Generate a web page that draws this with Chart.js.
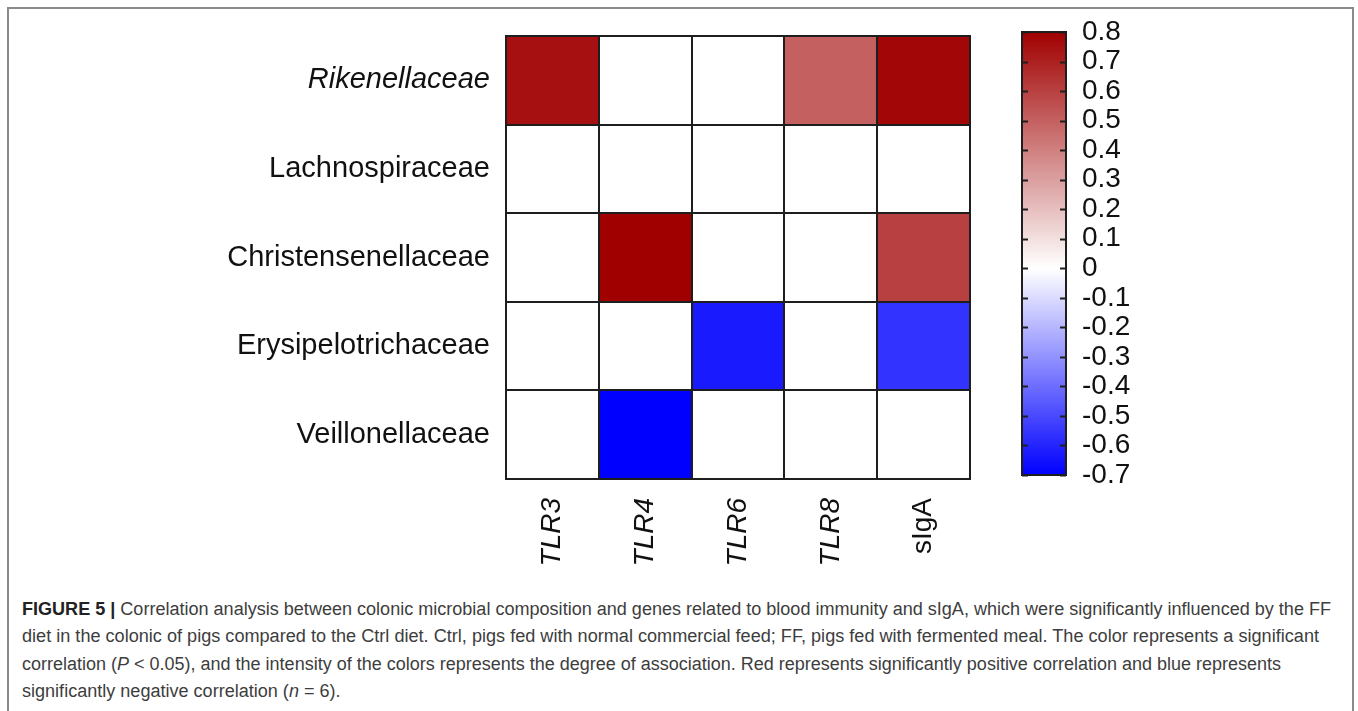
<!DOCTYPE html>
<html>
<head>
<meta charset="utf-8">
<title>Correlation heatmap</title>
<script src="https://cdn.jsdelivr.net/npm/chart.js@4.4.1/dist/chart.umd.min.js"></script>
<style>
  html, body { margin: 0; padding: 0; background: #fff; }
  #page { position: relative; width: 1358px; height: 711px; overflow: hidden; background: #fff; }
  #frame { position: absolute; left: 7px; top: 7px; width: 1343px; height: 740px; border: 2px solid #8a8a8a; }
  #heatmap { position: absolute; left: 0; top: 0; }
  #colorbar { position: absolute; left: 1000px; top: 0; }
  #caption { position: absolute; left: 22px; top: 596px; font-family: 'Liberation Sans', Arial, sans-serif;
             font-size: 18px; color: #3d3d3d; }
  #caption .line { white-space: nowrap; height: 27.3px; line-height: 27.3px; transform-origin: 0 50%; display: block; width: max-content; }
  #caption b { color: #222; }
</style>
</head>
<body>
<div id="page">
  <div id="frame"></div>
  <canvas id="heatmap" width="1000" height="580"></canvas>
  <canvas id="colorbar" width="200" height="520"></canvas>
  <div id="caption">
    <span class="line"><b>FIGURE 5 |</b> Correlation analysis between colonic microbial composition and genes related to blood immunity and sIgA, which were significantly influenced by the FF</span>
    <span class="line">diet in the colonic of pigs compared to the Ctrl diet. Ctrl, pigs fed with normal commercial feed; FF, pigs fed with fermented meal. The color represents a significant</span>
    <span class="line">correlation (<i>P</i> &lt; 0.05), and the intensity of the colors represents the degree of association. Red represents significantly positive correlation and blue represents</span>
    <span class="line">significantly negative correlation (<i>n</i> = 6).</span>
  </div>
</div>
<script>
// Genes / immune markers (columns) and bacterial families (rows)
const columns = ['TLR3', 'TLR4', 'TLR6', 'TLR8', 'sIgA'];
const italicColumns = ['TLR3', 'TLR4', 'TLR6', 'TLR8'];
const families = ['Rikenellaceae', 'Lachnospiraceae', 'Christensenellaceae', 'Erysipelotrichaceae', 'Veillonellaceae'];
const italicFamilies = ['Rikenellaceae'];

// Significant correlation coefficients per family (0 = not significant)
const rikenellaceae       = [0.75, 0, 0, 0.50, 0.78];
const lachnospiraceae     = [0, 0, 0, 0, 0];
const christensenellaceae = [0, 0.80, 0, 0, 0.60];
const erysipelotrichaceae = [0, 0, -0.63, 0, -0.56];
const veillonellaceae     = [0, -0.70, 0, 0, 0];

// Colour scale range and its tick labels
const scaleMax = 0.8;
const scaleMin = -0.7;
const colorbarTicks = [0.8, 0.7, 0.6, 0.5, 0.4, 0.3, 0.2, 0.1, 0, -0.1, -0.2, -0.3, -0.4, -0.5, -0.6, -0.7];

const rows = [rikenellaceae, lachnospiraceae, christensenellaceae, erysipelotrichaceae, veillonellaceae];

const FONT = "'Liberation Sans', Arial, sans-serif";
const RED = [160, 0, 0];
const WHITE = [255, 255, 255];
const BLUE = [0, 0, 255];

function mix(a, b, t) {
  return 'rgb(' + a.map((c, i) => Math.round(c + (b[i] - c) * t)).join(',') + ')';
}
function colorFor(v) {
  if (v >= 0) return mix(WHITE, RED, Math.min(v / scaleMax, 1));
  return mix(WHITE, BLUE, Math.min(v / scaleMin, 1));
}

// Cell borders drawn along the scale boundaries
const cellGrid = {
  id: 'cellGrid',
  afterDatasetsDraw(chart) {
    const { ctx, scales: { x, y } } = chart;
    ctx.save();
    ctx.strokeStyle = '#1e1e1e';
    ctx.lineWidth = 2;
    ctx.beginPath();
    for (let i = 0; i <= columns.length; i++) {
      const px = Math.round(x.getPixelForValue(i - 0.5));
      ctx.moveTo(px, y.top - 1);
      ctx.lineTo(px, y.bottom + 1);
    }
    for (let j = 0; j <= families.length; j++) {
      const py = Math.round(y.getPixelForValue(j));
      ctx.moveTo(x.left - 1, py);
      ctx.lineTo(x.right + 1, py);
    }
    ctx.stroke();
    ctx.restore();
  }
};

new Chart(document.getElementById('heatmap'), {
  type: 'bar',
  data: {
    labels: columns,
    datasets: rows.map((vals, r) => ({
      label: families[r],
      data: vals.map(() => [r, r + 1]),
      backgroundColor: vals.map(colorFor),
      borderWidth: 0,
      barPercentage: 1,
      categoryPercentage: 1,
      grouped: false
    }))
  },
  options: {
    responsive: false,
    animation: false,
    events: [],
    layout: { padding: { top: 36, right: 30, left: 0, bottom: 0 } },
    plugins: { legend: { display: false }, tooltip: { enabled: false } },
    scales: {
      x: {
        type: 'category',
        offset: true,
        grid: { display: false, drawTicks: false },
        border: { display: false },
        afterFit: (s) => { s.height = 101; },
        ticks: {
          autoSkip: false,
          minRotation: 90,
          maxRotation: 90,
          padding: 19,
          color: '#111',
          font: (ctx) => ({
            family: FONT,
            size: 28,
            style: italicColumns.includes(columns[ctx.index]) ? 'italic' : 'normal'
          })
        }
      },
      y: {
        type: 'linear',
        min: 0,
        max: families.length,
        reverse: true,
        grid: { display: false, drawTicks: false },
        border: { display: false },
        afterFit: (s) => { s.width = 506; },
        afterBuildTicks: (s) => { s.ticks = families.map((_, i) => ({ value: i + 0.5 })); },
        ticks: {
          autoSkip: false,
          padding: 16,
          color: '#111',
          callback: (v) => families[Math.floor(v)],
          font: (ctx) => ({
            family: FONT,
            size: 29,
            style: italicFamilies.includes(families[ctx.index]) ? 'italic' : 'normal'
          })
        }
      }
    }
  },
  plugins: [cellGrid]
});

// Colour bar: frame and inner tick marks on both sides
const barFrame = {
  id: 'barFrame',
  afterDatasetsDraw(chart) {
    const { ctx, chartArea: a, scales: { y } } = chart;
    ctx.save();
    ctx.strokeStyle = '#1e1e1e';
    ctx.lineWidth = 2;
    ctx.strokeRect(a.left, a.top, a.right - a.left, a.bottom - a.top);
    ctx.beginPath();
    colorbarTicks.forEach((v) => {
      const py = Math.round(y.getPixelForValue(v)) + 0.5;
      ctx.moveTo(a.left, py); ctx.lineTo(a.left + 6, py);
      ctx.moveTo(a.right - 6, py); ctx.lineTo(a.right, py);
    });
    ctx.stroke();
    ctx.restore();
  }
};

new Chart(document.getElementById('colorbar'), {
  type: 'bar',
  data: {
    labels: ['r'],
    datasets: [{
      data: [[scaleMin, scaleMax]],
      borderWidth: 0,
      barPercentage: 1,
      categoryPercentage: 1,
      backgroundColor: (ctx) => {
        const chart = ctx.chart;
        if (!chart.chartArea) return '#fff';
        const y = chart.scales.y;
        const g = chart.ctx.createLinearGradient(0, y.getPixelForValue(scaleMin), 0, y.getPixelForValue(scaleMax));
        colorbarTicks.forEach((v) => {
          g.addColorStop((v - scaleMin) / (scaleMax - scaleMin), colorFor(v));
        });
        return g;
      }
    }]
  },
  options: {
    responsive: false,
    animation: false,
    events: [],
    layout: { padding: { top: 32, left: 22, bottom: 45, right: 0 } },
    plugins: { legend: { display: false }, tooltip: { enabled: false } },
    scales: {
      x: { display: false, offset: true },
      y: {
        position: 'right',
        min: scaleMin,
        max: scaleMax,
        grid: { display: false, drawTicks: false },
        border: { display: false },
        afterFit: (s) => { s.width = 134; },
        afterBuildTicks: (s) => { s.ticks = colorbarTicks.map((v) => ({ value: v })); },
        ticks: {
          autoSkip: false,
          padding: 16,
          color: '#111',
          font: { family: FONT, size: 28, lineHeight: 1 },
          callback: (v) => String(v)
        }
      }
    }
  },
  plugins: [barFrame]
});

// Caption: full lines are fitted to the text block width, the last line uses the same condensing
const captionLineRight = [1331, 1319, 1281];
function fitCaption() {
  const lines = document.querySelectorAll('#caption .line');
  const left = document.getElementById('caption').getBoundingClientRect().left;
  let sum = 0;
  lines.forEach((el, i) => {
    el.style.transform = 'none';
    const w = el.getBoundingClientRect().width;
    let k;
    if (i < captionLineRight.length) {
      k = (captionLineRight[i] - left) / w;
      sum += k;
    } else {
      k = sum / captionLineRight.length;
    }
    el.style.transform = 'scaleX(' + k + ')';
  });
}
if (document.fonts && document.fonts.ready) document.fonts.ready.then(fitCaption);
fitCaption();
</script>
</body>
</html>
